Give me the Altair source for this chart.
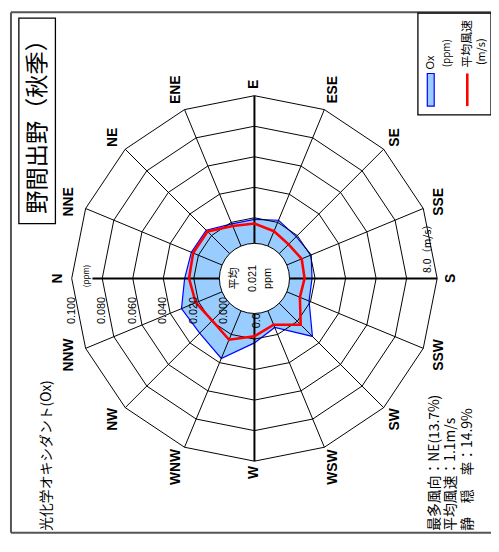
import altair as alt
import pandas as pd

# ---------------- data ----------------
directions = ["N", "NNE", "NE", "ENE", "E", "ESE", "SE", "SSE",
              "S", "SSW", "SW", "WSW", "W", "WNW", "NW", "NNW"]
ox_ppm = [0.026, 0.025, 0.025, 0.019, 0.019, 0.0215, 0.019, 0.0205,
          0.018, 0.019, 0.034, 0.015, 0.0225, 0.037, 0.031, 0.032]
wind_ms = [1.85, 1.9, 1.9, 1.4, 1.3, 1.1, 0.95, 1.1,
           1.05, 1.0, 1.85, 1.05, 1.45, 1.9, 1.55, 1.75]
ring_levels = [0.02, 0.04, 0.06, 0.08, 0.10]
tick_values = [0.0, 0.02, 0.04, 0.06, 0.08, 0.10]
tick_labels = ["0.000", "0.020", "0.040", "0.060", "0.080", "0.100"]
title_text = ["野間出野（秋季）"]
pollutant_text = ["光化学オキシダント(Ox)"]
stats_lines = ["最多風向：NE(13.7%)", "平均風速：1.1m/s", "静　穏　率：14.9%"]
center_lines = ["平均", "0.021", "ppm"]
legend_texts = ["Ox", "(ppm)", "平均風速", "(m/s)"]
wind_max_label = ["8.0（m/s）"]
wind_zero_label = ["0.0"]
unit_small = ["(ppm)"]

# ---------------- geometry / style ----------------
W, H = 489, 529
CX, CY = 249.5, 270.5          # polar centre in plot pixels
R0, RMAX = 30.5, 185.0
OX_MAX, WIND_MAX = 0.10, 8.0
JP = "Noto Sans CJK JP"
LAT = "Liberation Sans"

xs = alt.Scale(domain=[-CX, W - CX], nice=False, zero=False)
ys = alt.Scale(domain=[CY - H, CY], nice=False, zero=False)
X = lambda f: alt.X(f, scale=xs, axis=None)
Y = lambda f: alt.Y(f, scale=ys, axis=None)

def px(v):
    return v - 8

ANG = "datum.k*PI/8"

def ox_r(field):
    return f"{R0} + datum.{field}/{OX_MAX}*({RMAX}-{R0})"

def wind_r(field):
    return f"{R0} + datum.{field}/{WIND_MAX}*({RMAX}-{R0})"

# ---------------- polygons ----------------
ox_df = pd.DataFrame({"k": list(range(17)), "v": ox_ppm + [ox_ppm[0]]})
wind_df = pd.DataFrame({"k": list(range(17)), "v": wind_ms + [wind_ms[0]]})

ox_poly = alt.Chart(ox_df).transform_calculate(
    r=ox_r("v")
).transform_calculate(
    x=f"-datum.r*cos({ANG})", y=f"datum.r*sin({ANG})"
).mark_line(fill="#99CCFF", stroke="#0000FF", strokeWidth=1.2).encode(
    x=X("x:Q"), y=Y("y:Q"), order="k:Q"
)

wind_poly = alt.Chart(wind_df).transform_calculate(
    r=wind_r("v")
).transform_calculate(
    x=f"-datum.r*cos({ANG})", y=f"datum.r*sin({ANG})"
).mark_line(stroke="#FF0000", strokeWidth=2.6).encode(
    x=X("x:Q"), y=Y("y:Q"), order="k:Q"
)

# ---------------- grid ----------------
ring_rows = [{"lvl": lv, "k": k} for lv in ring_levels for k in range(17)]
rings = alt.Chart(pd.DataFrame(ring_rows)).transform_calculate(
    r=ox_r("lvl")
).transform_calculate(
    x=f"-datum.r*cos({ANG})", y=f"datum.r*sin({ANG})"
).mark_line(stroke="black", strokeWidth=1).encode(
    x=X("x:Q"), y=Y("y:Q"), order="k:Q", detail="lvl:N"
)

spoke_df = pd.DataFrame({"k": list(range(16)), "dir": directions})
spokes = alt.Chart(spoke_df).transform_calculate(
    rin=f"{R0}",
    rout=f"datum.k == 0 ? 164 : {RMAX}",
    w="datum.k % 4 == 0 ? 2 : 1",
).transform_calculate(
    x=f"-datum.rin*cos({ANG})", y=f"datum.rin*sin({ANG})",
    x2=f"-datum.rout*cos({ANG})", y2=f"datum.rout*sin({ANG})",
).mark_rule(color="black").encode(
    x=X("x:Q"), y=Y("y:Q"), x2="x2:Q", y2="y2:Q",
    strokeWidth=alt.StrokeWidth("w:Q", scale=None)
)

dir_labels = alt.Chart(spoke_df).transform_calculate(
    rl=f"196.5 + abs(sin({ANG}))*(length(datum.dir)-1)*5 + abs(cos({ANG}))*2.5"
).transform_calculate(
    x=f"-datum.rl*cos({ANG})", y=f"datum.rl*sin({ANG})"
).mark_text(angle=270, font=LAT, fontSize=14, fontWeight="bold",
            align="center", baseline="middle", color="black").encode(
    x=X("x:Q"), y=Y("y:Q"), text="dir:N"
)

tick_df = pd.DataFrame({"v": tick_values, "lab": tick_labels})
ticks = alt.Chart(tick_df).transform_calculate(
    r=ox_r("v")
).transform_calculate(
    x="-datum.r", y="-32.5"
).mark_text(angle=270, font=LAT, fontSize=11, align="center",
            baseline="middle", color="black").encode(
    x=X("x:Q"), y=Y("y:Q"), text="lab:N"
)

centre = alt.Chart(pd.DataFrame({"x": [0.0], "y": [0.0]})).mark_point(
    shape="circle", filled=True, fill="white", stroke="black",
    strokeWidth=1, size=71 * 71, opacity=1
).encode(x=X("x:Q"), y=Y("y:Q"))

# ---------------- annotations ----------------
def note(texts, i, x, y, size, align="center", font=JP, weight="normal"):
    return alt.Chart(pd.DataFrame({"t": [texts[i]]})).mark_text(
        angle=270, align=align, baseline="middle", font=font,
        fontSize=size, fontWeight=weight, color="black"
    ).encode(text="t:N", x=alt.value(px(x)), y=alt.value(px(y)))

def rule(x1, y1, x2, y2, color="black", w=1.0):
    return alt.Chart(pd.DataFrame({"a": [0]})).mark_rule(
        color=color, strokeWidth=w
    ).encode(x=alt.value(px(x1)), y=alt.value(px(y1)),
             x2=alt.value(px(x2)), y2=alt.value(px(y2)))

def box(x1, y1, x2, y2, fill="transparent", stroke="black", w=1.2):
    return alt.Chart(pd.DataFrame({"a": [0]})).mark_rect(
        fill=fill, stroke=stroke, strokeWidth=w
    ).encode(x=alt.value(px(x1)), y=alt.value(px(y1)),
             x2=alt.value(px(x2)), y2=alt.value(px(y2)))

frame = [
    rule(11, 9, 499, 9, color="#555555", w=2),
    rule(11, 9, 11, 536, color="#555555", w=2),
    rule(11, 536, 499, 536, color="#555555", w=2),
]

title_layers = [
    box(19, 15, 56, 223, w=1.3),
    note(title_text, 0, 38, 119, 23.5),
]

pollutant_layer = note(pollutant_text, 0, 48, 534, 14, align="left")

stats_layers = [
    note(stats_lines, 0, 440, 534, 14, align="left"),
    note(stats_lines, 1, 457, 534, 14, align="left"),
    note(stats_lines, 2, 474, 534, 14, align="left"),
]

legend_layers = [
    box(423, 10, 497, 113, w=1.3),
    box(432.5, 71, 439.5, 104, fill="#99CCFF", stroke="#0000FF", w=1.2),
    rule(473, 71, 473, 104, color="#FF0000", w=2.6),
    note(legend_texts, 0, 436, 67, 11, align="left", font=LAT),
    note(legend_texts, 1, 452, 50.5, 10),
    note(legend_texts, 2, 473, 41, 12),
    note(legend_texts, 3, 488, 49, 11),
]

inner_labels = [
    note(wind_max_label, 0, 433, 273, 10.5, align="left"),
    note(unit_small, 0, 88.5, 276, 8),
    note(wind_zero_label, 0, 260, 329, 11, align="left", font=LAT),
]

centre_text = [
    note(center_lines, 0, 237.5, 278.5, 11),
    note(center_lines, 1, 256, 278.5, 11, font=LAT),
    note(center_lines, 2, 271, 278.5, 11, font=LAT),
]

chart = alt.layer(
    *frame, *title_layers, pollutant_layer, *stats_layers, *legend_layers,
    ox_poly, rings, spokes, wind_poly, ticks, dir_labels,
    *inner_labels, centre, *centre_text
).properties(
    width=W, height=H, padding=0,
    autosize=alt.AutoSizeParams(type="none"),
    background="white",
).configure_view(stroke=None)

chart.save("out.html", embed_options={"renderer": "svg", "actions": False})
